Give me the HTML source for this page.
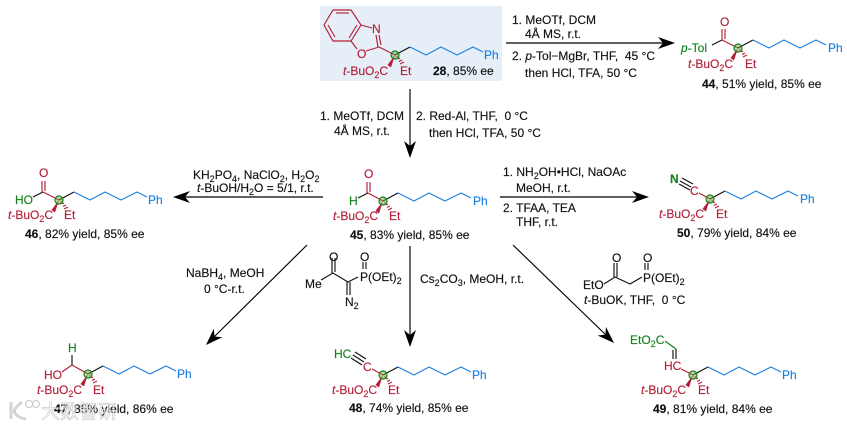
<!DOCTYPE html>
<html><head><meta charset="utf-8"><style>
html,body{margin:0;padding:0;background:#fff}
svg{display:block;filter:blur(.3px)}
text{font-family:"Liberation Sans","Noto Sans CJK SC",sans-serif;font-size:12px;fill:#111;stroke:#111;stroke-width:.15}
.r{fill:#b3203a;stroke:#b3203a}.g{fill:#12821c;stroke:#12821c}.b{fill:#1c80e0;stroke:#1c80e0}
.s{font-size:9px}
line,polyline,path.l{fill:none;stroke-width:1.15}
.kr{stroke:#b3203a}.kk{stroke:#111}.kg{stroke:#12821c}.kb{stroke:#1c80e0}
</style></head><body>
<svg width="847" height="426" viewBox="0 0 847 426" xmlns="http://www.w3.org/2000/svg">
<defs>
<g id="core">
<polygon points="0,0 -7.5,10 -4,12.5" fill="#b3203a"/>
<line x1="1.5" y1="2" x2="2.5" y2="1.5" class="kr"/><line x1="3" y1="4" x2="5" y2="3" class="kr"/><line x1="4" y1="6.5" x2="7" y2="5" class="kr"/><line x1="5" y1="9" x2="9" y2="7" class="kr"/>
<polyline points="0,0 15,-8" class="kk"/>
<polyline points="15,-8 31,0 46,-8 62,0 78,-8 88,-3" class="kb"/>
<circle r="4" fill="#6fa53a" fill-opacity=".45" stroke="#12821c" stroke-width="1.2"/>
</g>
<path id="ah" d="M0,0 L-17,-6 L-12,0 L-17,6 Z" fill="#000"/>
</defs>
<rect x="320" y="6" width="182" height="75" fill="#e6eef8"/>

<!-- 28 -->
<polygon points="333,10 351,10 361,25 351,41 333,41 324,25" fill="none" stroke="#b3203a" stroke-width="1.15"/>
<polyline points="336,13 349,13" class="kr"/><polyline points="328,25 335,37" class="kr"/><polyline points="349,38 357,25" class="kr"/>
<line x1="361" y1="25" x2="372" y2="28" class="kr"/><line x1="351" y1="41" x2="357" y2="49" class="kr"/><line x1="366" y1="51" x2="379" y2="47" class="kr"/>
<line x1="376" y1="35" x2="378" y2="47" class="kr"/><line x1="379" y1="35" x2="381" y2="45" class="kr"/><line x1="379" y1="47" x2="395" y2="55" class="kr"/>
<text x="372" y="33" class="r">N</text><text x="357" y="58" class="r">O</text>
<use href="#core" x="395" y="55"/>
<text x="343" y="75" class="r"><tspan font-style="italic">t</tspan>-BuO<tspan class="s" dy="3">2</tspan><tspan dy="-3">C</tspan></text>
<text x="400" y="75" class="r">Et</text><text x="484" y="59" class="b">Ph</text>
<text x="433" y="75"><tspan font-weight="bold">28</tspan>, 85% ee</text>

<!-- 44 -->
<line x1="712" y1="45" x2="722" y2="40" class="kk"/><line x1="722" y1="40" x2="738" y2="48" class="kr"/>
<line x1="722" y1="29" x2="722" y2="40" class="kr"/><line x1="725" y1="29" x2="725" y2="39" class="kr"/>
<use href="#core" x="738" y="48"/>
<text x="720" y="26" class="r">O</text><text x="681" y="52" class="g"><tspan font-style="italic">p</tspan>-Tol</text>
<text x="688" y="68" class="r"><tspan font-style="italic">t</tspan>-BuO<tspan class="s" dy="3">2</tspan><tspan dy="-3">C</tspan></text>
<text x="745" y="68" class="r">Et</text><text x="828" y="52" class="b">Ph</text>
<text x="702" y="88"><tspan font-weight="bold">44</tspan>, 51% yield, 85% ee</text>

<!-- 46 -->
<line x1="33" y1="197" x2="43" y2="192" class="kk"/><line x1="43" y1="192" x2="59" y2="200" class="kr"/>
<line x1="42" y1="181" x2="42" y2="192" class="kr"/><line x1="45" y1="181" x2="45" y2="191" class="kr"/>
<use href="#core" x="59" y="200"/>
<text x="39" y="177" class="r">O</text><text x="15" y="204" class="g">HO</text>
<text x="8" y="219" class="r"><tspan font-style="italic">t</tspan>-BuO<tspan class="s" dy="3">2</tspan><tspan dy="-3">C</tspan></text>
<text x="64" y="219" class="r">Et</text><text x="148" y="204" class="b">Ph</text>
<text x="25" y="238"><tspan font-weight="bold">46</tspan>, 82% yield, 85% ee</text>

<!-- 45 -->
<line x1="358" y1="198" x2="368" y2="193" class="kk"/><line x1="368" y1="193" x2="383" y2="201" class="kr"/>
<line x1="367" y1="182" x2="367" y2="193" class="kr"/><line x1="370" y1="182" x2="370" y2="192" class="kr"/>
<use href="#core" x="383" y="201"/>
<text x="364" y="178" class="r">O</text><text x="349" y="205" class="g">H</text>
<text x="333" y="220" class="r"><tspan font-style="italic">t</tspan>-BuO<tspan class="s" dy="3">2</tspan><tspan dy="-3">C</tspan></text>
<text x="389" y="220" class="r">Et</text><text x="473" y="205" class="b">Ph</text>
<text x="350" y="239"><tspan font-weight="bold">45</tspan>, 83% yield, 85% ee</text>

<!-- 50 -->
<line x1="680" y1="181" x2="691" y2="187" class="kk"/><line x1="682" y1="178" x2="693" y2="184" class="kk"/><line x1="679" y1="184" x2="690" y2="190" class="kk"/>
<line x1="699" y1="193" x2="710" y2="199" class="kr"/>
<use href="#core" x="710" y="199"/>
<text x="670" y="183" class="g" font-weight="bold">N</text><text x="690" y="195" class="r">C</text>
<text x="659" y="218" class="r"><tspan font-style="italic">t</tspan>-BuO<tspan class="s" dy="3">2</tspan><tspan dy="-3">C</tspan></text>
<text x="716" y="218" class="r">Et</text><text x="800" y="203" class="b">Ph</text>
<text x="677" y="237"><tspan font-weight="bold">50</tspan>, 79% yield, 84% ee</text>

<!-- 47 -->
<line x1="62" y1="372" x2="72" y2="365" class="kr"/><line x1="72" y1="365" x2="88" y2="374" class="kr"/><line x1="72" y1="355" x2="72" y2="365" class="kk"/>
<use href="#core" x="88" y="374"/>
<text x="68" y="352" class="g">H</text><text x="44" y="379" class="r">HO</text>
<text x="37" y="394" class="r"><tspan font-style="italic">t</tspan>-BuO<tspan class="s" dy="3">2</tspan><tspan dy="-3">C</tspan></text>
<text x="93" y="394" class="r">Et</text><text x="177" y="378" class="b">Ph</text>

<!-- watermark -->
<text x="54" y="413"><tspan font-weight="bold">47</tspan>, 85% yield, 86% ee</text>
<path d="M11,402 L11,419 M22,402 Q12,410 15,413 Q18,418 26,419" fill="none" stroke="#d4d4d4" stroke-width="3"/>
<circle cx="29" cy="404" r="3.5" fill="#fff" stroke="#c4c4c4"/><circle cx="36" cy="404" r="3.5" fill="#fff" stroke="#c4c4c4"/>
<text x="41" y="418" style="font-size:19px;fill:#fff;fill-opacity:.65;stroke:#aaa;stroke-width:.5;stroke-opacity:.8">大数智研</text>

<!-- 48 -->
<line x1="353" y1="355" x2="364" y2="362" class="kk"/><line x1="355" y1="352" x2="366" y2="359" class="kk"/><line x1="351" y1="358" x2="362" y2="365" class="kk"/>
<line x1="372" y1="369" x2="383" y2="375" class="kr"/>
<use href="#core" x="383" y="375"/>
<text x="334" y="358" class="g">HC</text><text x="363" y="371" class="r">C</text>
<text x="332" y="394" class="r"><tspan font-style="italic">t</tspan>-BuO<tspan class="s" dy="3">2</tspan><tspan dy="-3">C</tspan></text>
<text x="388" y="394" class="r">Et</text><text x="472" y="379" class="b">Ph</text>
<text x="349" y="412"><tspan font-weight="bold">48</tspan>, 74% yield, 85% ee</text>

<!-- 49 -->
<line x1="665" y1="341" x2="676" y2="349" class="kg"/><line x1="676" y1="349" x2="676" y2="359" class="kk"/><line x1="673" y1="350" x2="673" y2="359" class="kk"/>
<line x1="681" y1="369" x2="693" y2="375" class="kr"/>
<use href="#core" x="693" y="375"/>
<text x="630" y="344" class="g">EtO<tspan class="s" dy="3">2</tspan><tspan dy="-3">C</tspan></text><text x="664" y="370" class="r">HC</text>
<text x="641" y="394" class="r"><tspan font-style="italic">t</tspan>-BuO<tspan class="s" dy="3">2</tspan><tspan dy="-3">C</tspan></text>
<text x="698" y="394" class="r">Et</text><text x="782" y="379" class="b">Ph</text>
<text x="653" y="413"><tspan font-weight="bold">49</tspan>, 81% yield, 84% ee</text>

<!-- arrows -->
<g stroke="#000" stroke-width="1.6" fill="none">
<line x1="506" y1="43" x2="665" y2="43"/><line x1="410" y1="89" x2="410" y2="148"/>
<line x1="323" y1="197" x2="183" y2="197"/><line x1="500" y1="197" x2="640" y2="197"/>
<line x1="307" y1="245" x2="213" y2="338"/><line x1="410" y1="246" x2="410" y2="337"/><line x1="513" y1="245" x2="607" y2="336"/>
</g>
<use href="#ah" transform="translate(675,43)"/><use href="#ah" transform="translate(410,158) rotate(90)"/>
<use href="#ah" transform="translate(173,197) rotate(180)"/><use href="#ah" transform="translate(649,197)"/>
<use href="#ah" transform="translate(206,345) rotate(135)"/><use href="#ah" transform="translate(410,347) rotate(90)"/><use href="#ah" transform="translate(614,343) rotate(44)"/>

<!-- conditions -->
<text x="512" y="24">1. MeOTf, DCM</text><text x="525" y="38">4Å MS, r.t.</text>
<text x="512" y="60">2. <tspan font-style="italic">p</tspan>-Tol−MgBr, THF,&#160; 45 °C</text><text x="525" y="77">then HCl, TFA, 50 °C</text>
<text x="320" y="120">1. MeOTf, DCM</text><text x="334" y="135">4Å MS, r.t.</text>
<text x="416" y="120">2. Red-Al, THF,&#160; 0 °C</text><text x="429" y="137">then HCl, TFA, 50 °C</text>
<text x="193" y="179">KH<tspan class="s" dy="3">2</tspan><tspan dy="-3">PO</tspan><tspan class="s" dy="3">4</tspan><tspan dy="-3">, NaClO</tspan><tspan class="s" dy="3">2</tspan><tspan dy="-3">, H</tspan><tspan class="s" dy="3">2</tspan><tspan dy="-3">O</tspan><tspan class="s" dy="3">2</tspan></text>
<text x="197" y="192"><tspan font-style="italic">t</tspan>-BuOH/H<tspan class="s" dy="3">2</tspan><tspan dy="-3">O = 5/1, r.t.</tspan></text>
<text x="503" y="176">1. NH<tspan class="s" dy="3">2</tspan><tspan dy="-3">OH•HCl, NaOAc</tspan></text><text x="516" y="192">MeOH, r.t.</text>
<text x="503" y="212">2. TFAA, TEA</text><text x="516" y="226">THF, r.t.</text>
<text x="186" y="277">NaBH<tspan class="s" dy="3">4</tspan><tspan dy="-3">, MeOH</tspan></text><text x="204" y="293">0 °C-r.t.</text>
<text x="420" y="283">Cs<tspan class="s" dy="3">2</tspan><tspan dy="-3">CO</tspan><tspan class="s" dy="3">3</tspan><tspan dy="-3">, MeOH, r.t.</tspan></text>

<!-- reagent 1 -->
<polyline points="321,280 333,273 348,282 358,277" class="kk"/>
<line x1="332" y1="258" x2="332" y2="273" class="kk"/><line x1="335" y1="258" x2="335" y2="272" class="kk"/>
<line x1="347" y1="282" x2="347" y2="295" class="kk"/><line x1="350" y1="282" x2="350" y2="295" class="kk"/>
<line x1="363" y1="262" x2="363" y2="269" class="kk"/><line x1="366" y1="262" x2="366" y2="269" class="kk"/>
<text x="305" y="288">Me</text><text x="329" y="261">O</text><text x="360" y="261">O</text>
<text x="345" y="306">N<tspan class="s" dy="3">2</tspan></text>
<text x="360" y="281">P(OEt)<tspan class="s" dy="3">2</tspan></text>

<!-- reagent 2 -->
<polyline points="604,284 615,277 630,284 642,277" class="kk"/>
<line x1="614" y1="263" x2="614" y2="277" class="kk"/><line x1="617" y1="263" x2="617" y2="277" class="kk"/>
<line x1="645" y1="263" x2="645" y2="270" class="kk"/><line x1="648" y1="263" x2="648" y2="270" class="kk"/>
<text x="583" y="289">EtO</text><text x="612" y="262">O</text><text x="643" y="262">O</text>
<text x="643" y="282">P(OEt)<tspan class="s" dy="3">2</tspan></text>
<text x="584" y="304"><tspan font-style="italic">t</tspan>-BuOK, THF,&#160; 0 °C</text>
</svg>
</body></html>
